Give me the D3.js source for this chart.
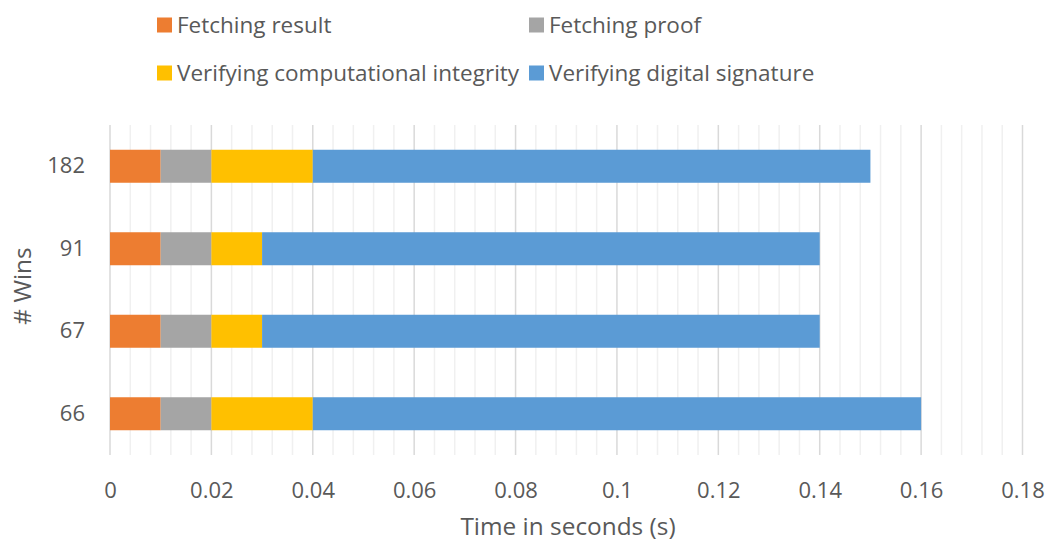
<!DOCTYPE html>
<html><head><meta charset="utf-8">
<script src="https://cdn.jsdelivr.net/npm/d3@7"></script>
<style>body{margin:0;background:#fff}svg{display:block}text{font-family:"Open Sans",sans-serif;fill:#595959}</style>
</head><body><svg id="c" width="1049" height="543"></svg>
<script>
const categories = ["66","67","91","182"];
const seriesNames = ["Fetching result","Fetching proof","Verifying computational integrity","Verifying digital signature"];
const colors = ["#ED7D31","#A5A5A5","#FFC000","#5B9BD5"];
const fetchingResult = [0.01,0.01,0.01,0.01];
const fetchingProof = [0.01,0.01,0.01,0.01];
const verifyingCI = [0.02,0.01,0.01,0.02];
const verifyingDS = [0.12,0.11,0.11,0.11];
const xTicks = [0,0.02,0.04,0.06,0.08,0.1,0.12,0.14,0.16,0.18];
const xMinorStep = 0.004;

const svg = d3.select("#c");
const x = d3.scaleLinear().domain([0,0.18]).range([110,1022.5]);
const y = d3.scaleBand().domain(categories.slice().reverse()).range([125,455]).paddingInner(0.6).paddingOuter(0.3);

const rows = categories.map((c,i)=>({cat:c, v:[fetchingResult[i],fetchingProof[i],verifyingCI[i],verifyingDS[i]]}));

const minor = d3.range(0, 0.18+1e-9, xMinorStep).filter(v=>Math.abs(v/0.02-Math.round(v/0.02))>1e-6);
svg.append("g").selectAll("line").data(minor).join("line")
  .attr("x1",d=>x(d)).attr("x2",d=>x(d)).attr("y1",125).attr("y2",455)
  .attr("stroke","#f0f0f0").attr("stroke-width",1.5);
svg.append("g").selectAll("line").data(xTicks).join("line")
  .attr("x1",d=>x(d)).attr("x2",d=>x(d)).attr("y1",125).attr("y2",455)
  .attr("stroke","#d9d9d9").attr("stroke-width",1.5);

const g = svg.append("g");
rows.forEach(r=>{
  let acc=0;
  r.v.forEach((v,k)=>{
    g.append("rect").attr("x",x(acc)).attr("width",x(acc+v)-x(acc))
     .attr("y",y(r.cat)).attr("height",y.bandwidth()).attr("fill",colors[k]);
    acc+=v;
  });
});

const xa = d3.axisBottom(x).tickValues(xTicks).tickSize(0).tickPadding(0).tickFormat(d=>d===0?"0":String(+d.toFixed(2)));
const gx = svg.append("g").attr("transform","translate(0,482.5)").call(xa);
gx.select(".domain").remove();
gx.selectAll("text").attr("font-size",22).style("fill","#595959").attr("dy","0.71em").attr("font-family","Open Sans");

const ya = d3.axisLeft(y).tickSize(0).tickPadding(25);
const gy = svg.append("g").attr("transform","translate(110,0)").call(ya);
gy.select(".domain").remove();
gy.selectAll("text").attr("font-size",22).style("fill","#595959").attr("font-family","Open Sans");

svg.append("text").attr("x",568).attr("y",535).attr("text-anchor","middle").attr("font-size",24.4).text("Time in seconds (s)");
svg.append("text").attr("transform","translate(31,286) rotate(-90)").attr("text-anchor","middle").attr("font-size",24.4).text("# Wins");

const legPos = [[157,25],[529,25],[157,73],[529,73]];
seriesNames.forEach((n,k)=>{
  const lg = svg.append("g").attr("transform",`translate(${legPos[k][0]},${legPos[k][1]})`);
  lg.append("rect").attr("x",0).attr("y",-7.5).attr("width",15).attr("height",15).attr("fill",colors[k]);
  lg.append("text").attr("x",20).attr("y",0).attr("dy","0.35em").attr("font-size",22.5).text(n);
});
</script></body></html>
